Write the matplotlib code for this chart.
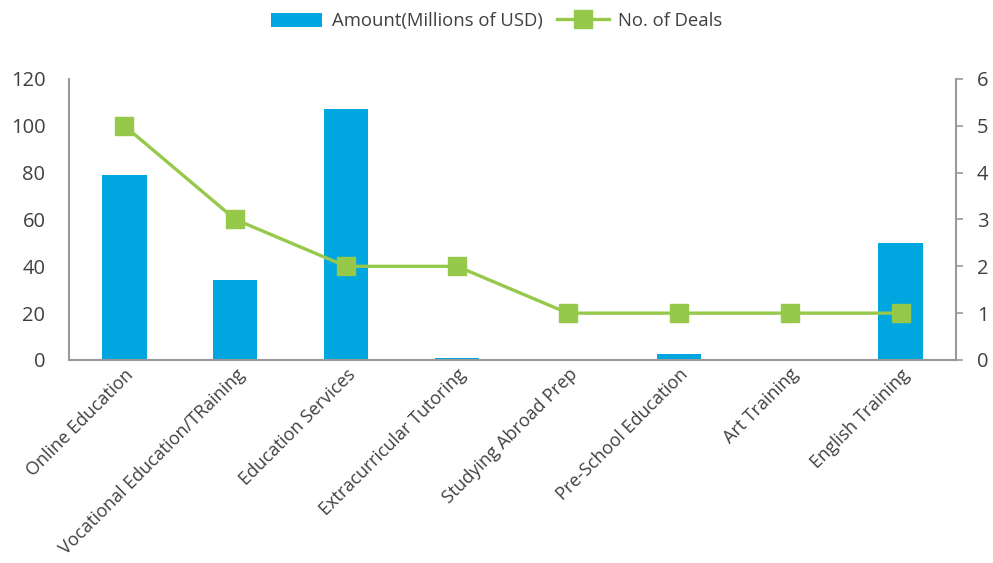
import matplotlib
matplotlib.use("Agg")
import matplotlib.pyplot as plt
import numpy as np

categories = ["Online Education", "Vocational Education/TRaining", "Education Services",
              "Extracurricular Tutoring", "Studying Abroad Prep", "Pre-School Education",
              "Art Training", "English Training"]
amount = [79, 34, 107, 1, 0, 2.5, 0, 50]
deals = [5, 3, 2, 2, 1, 1, 1, 1]

plt.rcParams['font.family'] = ['Open Sans', 'DejaVu Sans']
txt = '#404040'
bar_c = '#00A6DF'
line_c = '#96C94A'
sp_c = '#999999'

fig = plt.figure(figsize=(9.93, 5.63), dpi=100)
ax = fig.add_axes([0.0695, 0.3606, 0.8932, 0.4991])
x = np.arange(len(categories))
b = ax.bar(x, amount, width=0.4, color=bar_c, label='Amount(Millions of USD)', zorder=2)
ax.set_xlim(-0.5, len(categories) - 0.5)
ax.set_ylim(0, 120)
ax.set_yticks(np.arange(0, 121, 20))
ax.tick_params(axis='y', length=0, labelsize=14.5, labelcolor=txt, pad=17)
ax.tick_params(axis='x', length=0, labelsize=13, labelcolor=txt, pad=4)
ax.set_xticks(x)
ax.set_xticklabels(categories, rotation=45, ha='right', rotation_mode='anchor')
for s in ['top', 'right']:
    ax.spines[s].set_visible(False)
for s in ['left', 'bottom']:
    ax.spines[s].set_color(sp_c)
    ax.spines[s].set_linewidth(1.5)

ax2 = ax.twinx()
l, = ax2.plot(x, deals, color=line_c, lw=2.4, marker='s', markersize=12.5,
              markerfacecolor=line_c, markeredgecolor=line_c, label='No. of Deals', zorder=3)
ax2.set_ylim(0, 6)
ax2.set_yticks(range(0, 7))
ax2.tick_params(axis='y', length=5, color=sp_c, width=1.2, labelsize=14.5, labelcolor=txt, pad=10)
for s in ['top', 'left', 'bottom']:
    ax2.spines[s].set_visible(False)
ax2.spines['right'].set_color(sp_c)
ax2.spines['right'].set_linewidth(1.5)

fig.legend(handles=[b, l], loc='upper center', bbox_to_anchor=(0.5, 1.008), ncol=2,
           frameon=False, fontsize=13.3, labelcolor=txt, handlelength=2.8,
           handleheight=0.8, columnspacing=0.8, handletextpad=0.5)

fig.savefig('out.png', dpi=100)
